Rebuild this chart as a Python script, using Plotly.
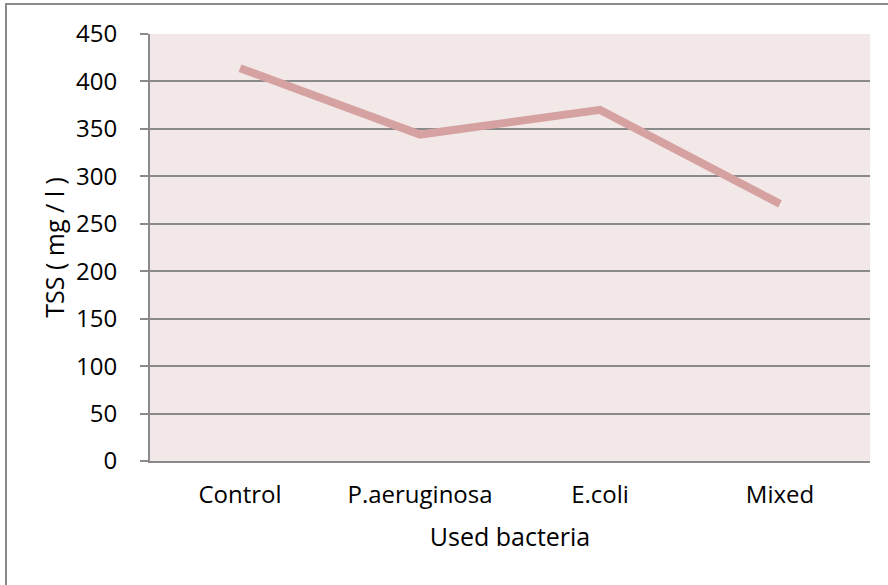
import plotly.graph_objects as go

categories = ["Control", "P.aeruginosa", "E.coli", "Mixed"]
tss_values = [414, 344, 370, 271]
y_ticks = [0, 50, 100, 150, 200, 250, 300, 350, 400, 450]

FONT = "Open Sans"
W, H = 888, 585
L, R, T, B = 150, 18, 34, 124
pw, ph = W - L - R, H - T - B

fig = go.Figure()
fig.add_trace(go.Scatter(
    x=categories, y=tss_values, mode="lines",
    line=dict(color="#D6A2A1", width=8),
    hoverinfo="x+y", showlegend=False,
))

fig.update_layout(
    width=W, height=H,
    margin=dict(l=L, r=R, t=T, b=B),
    paper_bgcolor="white",
    plot_bgcolor="#F2E8E8",
    font=dict(family=FONT, size=24, color="black"),
    xaxis=dict(
        type="category", range=[-0.5, 3.5],
        showline=True, linecolor="#8A8A8A", linewidth=2,
        showgrid=False, ticks="", ticklabelstandoff=11,
        title=dict(text="Used bacteria", standoff=20, font=dict(size=25)),
    ),
    yaxis=dict(
        range=[0, 450], tickvals=y_ticks,
        showline=True, linecolor="#8A8A8A", linewidth=2,
        showgrid=True, gridcolor="#8A8A8A", gridwidth=1.6,
        zeroline=False,
        ticks="outside", ticklen=8, tickcolor="#8A8A8A", tickwidth=1.6,
        ticklabelstandoff=18,
        title=dict(text="TSS ( mg / l )", standoff=4, font=dict(size=25)),
    ),
    shapes=[dict(
        type="rect", xref="paper", yref="paper",
        x0=(6 - L) / pw, x1=1 + 40 / pw,
        y0=-(B + 40) / ph, y1=1 + (T - 4) / ph,
        line=dict(color="#8A8A8A", width=2), layer="below",
    )],
)

fig.write_html(
    "out.html",
    config={"displayModeBar": False},
    post_script="document.body.style.margin='0';document.body.style.overflow='hidden';",
)
